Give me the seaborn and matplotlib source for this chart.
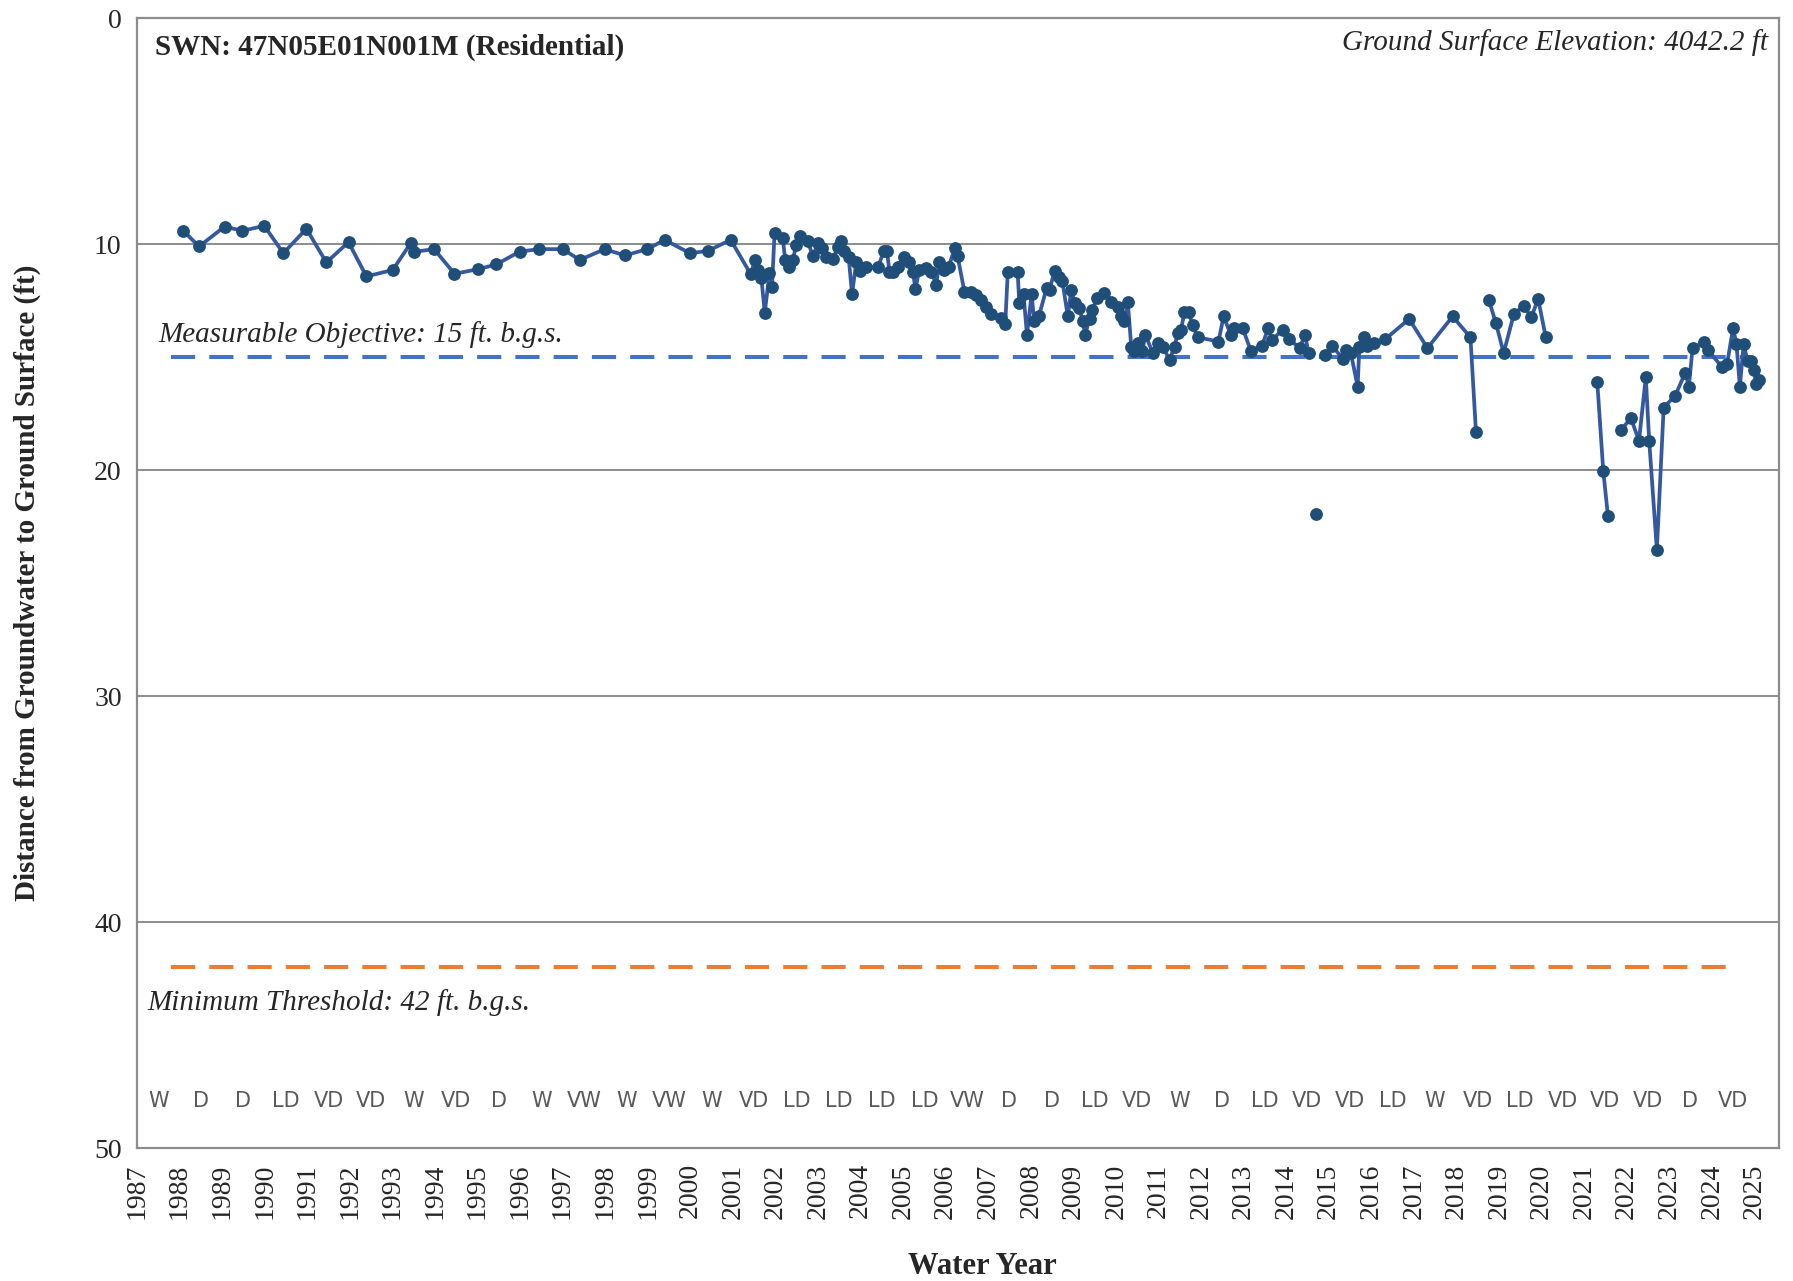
import numpy as np
import pandas as pd
import seaborn as sns
import matplotlib.pyplot as plt

# groundwater depth readings (decimal year, ft below ground surface), split into connected runs
years_a = [1988.08, 1988.46, 1989.06, 1989.47, 1989.99, 1990.44, 1990.98, 1991.45, 1991.97, 1992.39,
           1993.01, 1993.43, 1993.51, 1993.98, 1994.46, 1995.01, 1995.44, 1995.99, 1996.44, 1997.01,
           1997.40, 1997.99, 1998.46, 1998.99, 1999.40, 1999.99, 2000.41, 2000.95, 2001.42, 2001.52,
           2001.59, 2001.67, 2001.75, 2001.86, 2001.92, 2001.98, 2002.17, 2002.23, 2002.31, 2002.41,
           2002.49, 2002.58, 2002.76, 2002.88, 2003.00, 2003.10, 2003.18, 2003.35, 2003.47, 2003.55,
           2003.62, 2003.72, 2003.80, 2003.90, 2003.98, 2004.13, 2004.41, 2004.55, 2004.62, 2004.68,
           2004.76, 2004.87, 2005.02, 2005.15, 2005.23, 2005.29, 2005.38, 2005.54, 2005.66, 2005.78,
           2005.85, 2005.95, 2006.07, 2006.21, 2006.28, 2006.44, 2006.60, 2006.72, 2006.83, 2006.95,
           2007.07, 2007.30, 2007.40, 2007.46, 2007.69, 2007.73, 2007.83, 2007.91, 2008.02, 2008.08,
           2008.19, 2008.37, 2008.44, 2008.56, 2008.66, 2008.74, 2008.87, 2008.95, 2009.03, 2009.14,
           2009.22, 2009.28, 2009.38, 2009.45, 2009.55, 2009.71, 2009.89, 2010.04, 2010.12, 2010.20,
           2010.28, 2010.36, 2010.42, 2010.51, 2010.62, 2010.69, 2010.87, 2010.99, 2011.10, 2011.26,
           2011.38, 2011.45, 2011.53, 2011.61, 2011.71, 2011.80, 2011.92, 2012.41, 2012.53, 2012.70,
           2012.78, 2012.98, 2013.17, 2013.43, 2013.58, 2013.67, 2013.92, 2014.07, 2014.32, 2014.44,
           2014.53]
depth_a = [9.40, 10.10, 9.22, 9.41, 9.19, 10.40, 9.32, 10.81, 9.91, 11.43,
           11.14, 9.96, 10.34, 10.22, 11.31, 11.11, 10.90, 10.33, 10.22, 10.22,
           10.70, 10.22, 10.50, 10.22, 9.81, 10.40, 10.30, 9.81, 11.33, 10.69,
           11.14, 11.51, 13.03, 11.28, 11.90, 9.49, 9.71, 10.69, 11.03, 10.69,
           10.03, 9.66, 9.88, 10.52, 9.96, 10.18, 10.55, 10.66, 10.13, 9.88,
           10.30, 10.55, 12.21, 10.81, 11.18, 11.03, 11.02, 10.30, 10.30, 11.21,
           11.21, 10.99, 10.55, 10.77, 11.21, 11.99, 11.14, 11.06, 11.21, 11.80,
           10.77, 11.14, 11.03, 10.18, 10.52, 12.10, 12.10, 12.24, 12.46, 12.76,
           13.08, 13.27, 13.54, 11.21, 11.21, 12.61, 12.21, 14.01, 12.21, 13.42,
           13.20, 11.95, 12.02, 11.18, 11.46, 11.61, 13.20, 12.02, 12.61, 12.83,
           13.42, 14.01, 13.30, 12.91, 12.39, 12.17, 12.54, 12.76, 13.20, 13.39,
           12.58, 14.53, 14.75, 14.38, 14.75, 14.01, 14.82, 14.38, 14.53, 15.12,
           14.53, 13.94, 13.79, 13.01, 13.01, 13.57, 14.12, 14.31, 13.20, 14.01,
           13.72, 13.72, 14.72, 14.50, 13.72, 14.23, 13.79, 14.20, 14.60, 14.01,
           14.82]
years_b = [2014.69]
depth_b = [21.93]
years_c = [2014.92, 2015.08, 2015.34, 2015.41, 2015.52, 2015.68, 2015.72, 2015.83, 2015.91, 2016.07,
           2016.33, 2016.89, 2017.32, 2017.91, 2018.33, 2018.46]
depth_c = [14.90, 14.50, 15.09, 14.68, 14.82, 16.30, 14.53, 14.09, 14.50, 14.38,
           14.20, 13.31, 14.60, 13.20, 14.12, 18.32]
years_d = [2018.76, 2018.93, 2019.11, 2019.35, 2019.58, 2019.76, 2019.92, 2020.10]
depth_d = [12.46, 13.50, 14.82, 13.10, 12.72, 13.24, 12.42, 14.12]
years_e = [2021.31, 2021.45, 2021.56]
depth_e = [16.11, 20.02, 22.02]
years_f = [2021.87, 2022.10, 2022.29, 2022.45, 2022.53, 2022.71, 2022.87, 2023.14, 2023.38, 2023.46,
           2023.55, 2023.81, 2023.91, 2024.24, 2024.36, 2024.50, 2024.58, 2024.66, 2024.75, 2024.84,
           2024.92, 2025.00, 2025.04, 2025.12]
depth_f = [18.22, 17.70, 18.70, 15.90, 18.70, 23.53, 17.23, 16.71, 15.68, 16.30,
           14.60, 14.35, 14.68, 15.44, 15.31, 13.72, 14.41, 16.30, 14.41, 15.19,
           15.19, 15.59, 16.20, 16.00]

# water year types, one per water year starting 1987
wy_types = ['W', 'D', 'D', 'LD', 'VD', 'VD', 'W', 'VD', 'D', 'W', 'VW', 'W', 'VW', 'W', 'VD',
            'LD', 'LD', 'LD', 'LD', 'VW', 'D', 'D', 'LD', 'VD', 'W', 'D', 'LD', 'VD', 'VD',
            'LD', 'W', 'VD', 'LD', 'VD', 'VD', 'VD', 'D', 'VD']
first_wy = 1987
tick_years = list(range(1987, 2026))

mo_depth = 15
mt_depth = 42

runs = [(years_a, depth_a), (years_b, depth_b), (years_c, depth_c),
        (years_d, depth_d), (years_e, depth_e), (years_f, depth_f)]
df = pd.concat([pd.DataFrame({'year': y, 'depth': d, 'seg': i}) for i, (y, d) in enumerate(runs)],
               ignore_index=True)

sns.set_style('white')
plt.rcParams['font.family'] = ['Liberation Serif', 'DejaVu Serif']

fig = plt.figure(figsize=(17.93, 12.81), dpi=100)
ax = fig.add_axes([0.0764, 0.1038, 0.9158, 0.882])

grid_c = '#8c8c8c'
for v in [10, 20, 30, 40]:
    ax.axhline(v, color=grid_c, lw=1.4, zorder=0)

ax.hlines(mo_depth, 1987.8, 2024.72, colors='#4472C4', lw=2.9, linestyles=(0, (6, 3.5)), zorder=1)
ax.hlines(mt_depth, 1987.8, 2024.6, colors='#ED7D31', lw=2.9, linestyles=(0, (6, 3.5)), zorder=1)

sns.lineplot(data=df, x='year', y='depth', units='seg', estimator=None, sort=False,
             color='#3559A0', lw=2.7, ax=ax, zorder=2)
sns.scatterplot(data=df, x='year', y='depth', color='#1F4E79', s=85, linewidth=0, ax=ax, zorder=3)

ax.set_xlim(1987, 2025.58)
ax.set_ylim(50, 0)
ax.set_yticks([0, 10, 20, 30, 40, 50])
ax.set_xticks(tick_years)
ax.set_xticklabels([str(t) for t in tick_years], rotation=90, fontsize=20)
ax.tick_params(axis='y', labelsize=20)
ax.tick_params(axis='both', direction='out', length=7, width=1.4, color=grid_c, pad=4)
for s in ax.spines.values():
    s.set_color(grid_c)
    s.set_linewidth(1.6)

ax.set_xlabel('Water Year', fontsize=22, fontweight='bold', labelpad=24)
ax.xaxis.label.set_x(0.515)
ax.set_ylabel('Distance from Groundwater to Ground Surface (ft)', fontsize=21,
              fontweight='bold', labelpad=38)

ax.text(0.011, 0.986, 'SWN: 47N05E01N001M (Residential)', transform=ax.transAxes,
        ha='left', va='top', fontsize=21, fontweight='bold')
ax.text(0.993, 0.99, 'Ground Surface Elevation: 4042.2 ft', transform=ax.transAxes,
        ha='right', va='top', fontsize=21, style='italic')
ax.text(1987.5, 14.35, 'Measurable Objective: 15 ft. b.g.s.', ha='left', va='baseline',
        fontsize=21, style='italic')
ax.text(1987.24, 43.9, 'Minimum Threshold: 42 ft. b.g.s.', ha='left', va='baseline',
        fontsize=21, style='italic')

for i, t in enumerate(wy_types):
    ax.text(first_wy + i + 0.5, 47.9, t, ha='center', va='center', fontsize=15,
            color='#595959', family=['Liberation Sans Narrow', 'DejaVu Sans'])

fig.savefig('out.png', dpi=100)
